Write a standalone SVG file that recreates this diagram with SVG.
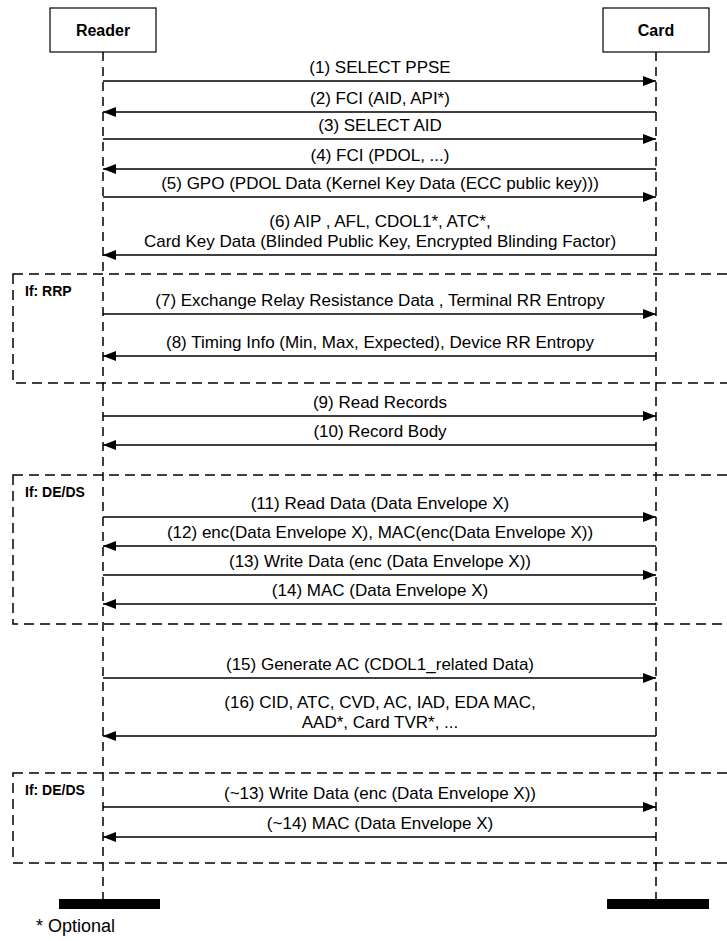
<svg xmlns="http://www.w3.org/2000/svg" width="727" height="941" viewBox="0 0 727 941">
  <style>
    .actor { fill: #fff; stroke: #000; stroke-width: 1.2; }
    .actor-label { font-family: "Liberation Sans", Arial, sans-serif; font-weight: bold; font-size: 16px; text-anchor: middle; fill: #000; }
    .lifeline { stroke: #000; stroke-width: 1.5; stroke-dasharray: 9 6; fill: none; }
    .frame { fill: none; stroke: #000; stroke-width: 1.5; stroke-dasharray: 10 6; }
    .frame-label { font-family: "Liberation Sans", Arial, sans-serif; font-weight: bold; font-size: 14px; fill: #000; }
    .msg { stroke: #000; stroke-width: 1.5; fill: none; marker-end: url(#head); }
    .msg-label { font-family: "Liberation Sans", Arial, sans-serif; font-size: 17px; text-anchor: middle; fill: #000; }
    .bar { fill: #000; }
    .note { font-family: "Liberation Sans", Arial, sans-serif; font-size: 18px; fill: #000; }
  </style>
  <defs>
    <marker id="head" viewBox="0 0 13 10" refX="13" refY="5" markerWidth="13" markerHeight="10" markerUnits="userSpaceOnUse" orient="auto">
      <path d="M0,0 L13,5 L0,10 Z" fill="#000"/>
    </marker>
  </defs>

  <!-- optional-step frames -->
  <g id="frame-rrp">
    <rect class="frame" x="13" y="274" width="760" height="109"/>
    <text class="frame-label" x="25" y="296">If: RRP</text>
  </g>
  <g id="frame-deds-1">
    <rect class="frame" x="13" y="475" width="760" height="149"/>
    <text class="frame-label" x="25" y="497">If: DE/DS</text>
  </g>
  <g id="frame-deds-2">
    <rect class="frame" x="13" y="773" width="760" height="90"/>
    <text class="frame-label" x="25" y="795">If: DE/DS</text>
  </g>

  <!-- participants -->
  <g id="reader">
    <line class="lifeline" x1="103" y1="52" x2="103" y2="899"/>
    <rect class="actor" x="50" y="8" width="106" height="44"/>
    <text class="actor-label" x="103" y="36">Reader</text>
    <rect class="bar" x="59" y="899" width="101" height="10"/>
  </g>
  <g id="card">
    <line class="lifeline" x1="656" y1="52" x2="656" y2="899"/>
    <rect class="actor" x="603" y="8" width="106" height="44"/>
    <text class="actor-label" x="656" y="36">Card</text>
    <rect class="bar" x="607" y="899" width="102" height="10"/>
  </g>

  <!-- messages -->
  <g id="messages">
    <line class="msg" x1="103" y1="81" x2="656" y2="81"/>
    <text class="msg-label" x="380" y="73">(1) SELECT PPSE</text>

    <line class="msg" x1="656" y1="112" x2="103" y2="112"/>
    <text class="msg-label" x="380" y="104">(2) FCI (AID, API*)</text>

    <line class="msg" x1="103" y1="139" x2="656" y2="139"/>
    <text class="msg-label" x="380" y="131">(3) SELECT AID</text>

    <line class="msg" x1="656" y1="169" x2="103" y2="169"/>
    <text class="msg-label" x="380" y="161">(4) FCI (PDOL, ...)</text>

    <line class="msg" x1="103" y1="197" x2="656" y2="197"/>
    <text class="msg-label" x="380" y="189">(5) GPO (PDOL Data (Kernel Key Data (ECC public key)))</text>

    <line class="msg" x1="656" y1="255" x2="103" y2="255"/>
    <text class="msg-label" x="380" y="227">(6) AIP , AFL, CDOL1*, ATC*,</text>
    <text class="msg-label" x="380" y="247">Card Key Data (Blinded Public Key, Encrypted Blinding Factor)</text>

    <line class="msg" x1="103" y1="314" x2="656" y2="314"/>
    <text class="msg-label" x="380" y="306">(7) Exchange Relay Resistance Data , Terminal RR Entropy</text>

    <line class="msg" x1="656" y1="356" x2="103" y2="356"/>
    <text class="msg-label" x="380" y="348">(8) Timing Info (Min, Max, Expected), Device RR Entropy</text>

    <line class="msg" x1="103" y1="416" x2="656" y2="416"/>
    <text class="msg-label" x="380" y="408">(9) Read Records</text>

    <line class="msg" x1="656" y1="445" x2="103" y2="445"/>
    <text class="msg-label" x="380" y="437">(10) Record Body</text>

    <line class="msg" x1="103" y1="517" x2="656" y2="517"/>
    <text class="msg-label" x="380" y="509">(11) Read Data (Data Envelope X)</text>

    <line class="msg" x1="656" y1="546" x2="103" y2="546"/>
    <text class="msg-label" x="380" y="538">(12) enc(Data Envelope X), MAC(enc(Data Envelope X))</text>

    <line class="msg" x1="103" y1="575" x2="656" y2="575"/>
    <text class="msg-label" x="380" y="567">(13) Write Data (enc (Data Envelope X))</text>

    <line class="msg" x1="656" y1="604" x2="103" y2="604"/>
    <text class="msg-label" x="380" y="596">(14) MAC (Data Envelope X)</text>

    <line class="msg" x1="103" y1="678" x2="656" y2="678"/>
    <text class="msg-label" x="380" y="670">(15) Generate AC (CDOL1_related Data)</text>

    <line class="msg" x1="656" y1="736" x2="103" y2="736"/>
    <text class="msg-label" x="380" y="708">(16) CID, ATC, CVD, AC, IAD, EDA MAC,</text>
    <text class="msg-label" x="380" y="728">AAD*, Card TVR*, ...</text>

    <line class="msg" x1="103" y1="807" x2="656" y2="807"/>
    <text class="msg-label" x="380" y="799">(~13) Write Data (enc (Data Envelope X))</text>

    <line class="msg" x1="656" y1="837" x2="103" y2="837"/>
    <text class="msg-label" x="380" y="829">(~14) MAC (Data Envelope X)</text>
  </g>

  <text class="note" x="36" y="932">* Optional</text>
</svg>
